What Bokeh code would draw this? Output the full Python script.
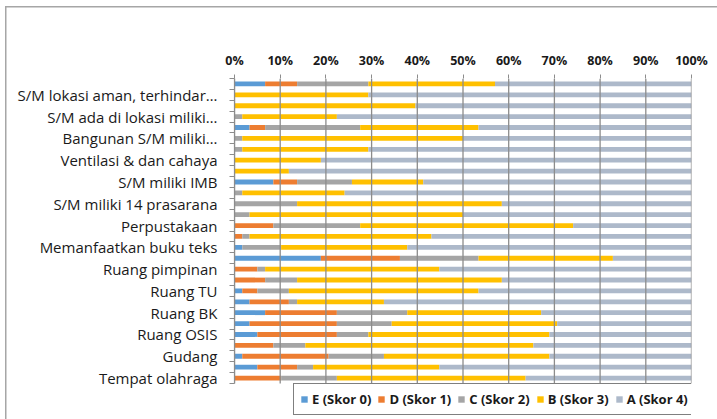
from bokeh.plotting import figure
from bokeh.models import ColumnDataSource, FixedTicker, Range1d, PrintfTickFormatter, Legend, LegendItem
from bokeh.embed import file_html
from bokeh.resources import INLINE

# 28 rows, top to bottom; only every other row carries a label (as in the source chart)
labels = ["S/M lokasi aman, terhindar…", "S/M ada di lokasi miliki…", "Bangunan S/M miliki…",
          "Ventilasi & dan cahaya", "S/M miliki IMB", "S/M miliki 14 prasarana", "Perpustakaan",
          "Memanfaatkan buku teks", "Ruang pimpinan", "Ruang TU", "Ruang BK", "Ruang OSIS",
          "Gudang", "Tempat olahraga"]

E = [6.7, 0, 0, 0, 3.3, 0, 0, 0, 0, 8.5, 0, 0, 0, 0, 0, 1.7, 18.9, 0, 0, 1.7, 3.3, 6.7, 3.3, 5.0, 0, 1.7, 5.0, 0]
D = [7.0, 0, 0, 0, 3.4, 0, 0, 0, 0, 5.2, 0, 0, 0, 8.5, 1.7, 0, 17.3, 5.0, 6.7, 3.3, 8.6, 15.7, 19.1, 17.4, 8.5, 18.9, 8.7, 10.2]
C = [15.6, 0, 0, 1.7, 20.8, 1.7, 1.7, 0, 0, 12.0, 1.7, 13.7, 3.3, 19.0, 1.6, 8.5, 17.2, 1.7, 7.0, 6.9, 1.8, 15.4, 12.0, 6.9, 7.0, 12.1, 3.5, 12.2]
B = [27.7, 29.3, 39.6, 20.7, 25.9, 48.3, 27.6, 18.9, 11.9, 15.6, 22.4, 44.8, 46.7, 46.6, 39.8, 27.6, 29.4, 38.1, 44.8, 41.5, 19.0, 29.3, 36.2, 39.6, 49.9, 36.2, 27.6, 41.3]
A = [43.0, 70.7, 60.4, 77.6, 46.6, 50.0, 70.7, 81.1, 88.1, 58.7, 75.9, 41.5, 50.0, 25.9, 56.9, 62.2, 17.2, 55.2, 41.5, 46.6, 67.3, 32.9, 29.4, 31.1, 34.6, 31.1, 55.2, 36.3]

series = ["E", "D", "C", "B", "A"]
series_names = ["E (Skor 0)", "D (Skor 1)", "C (Skor 2)", "B (Skor 3)", "A (Skor 4)"]
colors = ["#5B9BD5", "#ED7D31", "#A5A5A5", "#FFC000", "#ADB9CA"]
x_ticks = [0, 10, 20, 30, 40, 50, 60, 70, 80, 90, 100]

n = len(A)
ypos = [n - i for i in range(n)]
source = ColumnDataSource(dict(y=ypos, E=E, D=D, C=C, B=B, A=A))

# frame runs to the bottom of the canvas so the legend can sit inside it
top_px, cat_bottom_px, H = 78, 383, 419
unit = (cat_bottom_px - top_px) / n
y_start = 0.5 - (H - cat_bottom_px) / unit

p = figure(width=717, height=H, output_backend="svg", toolbar_location=None,
           x_range=Range1d(0, 100), y_range=Range1d(y_start, n + 0.5),
           x_axis_location="above",
           min_border_left=234, min_border_right=26, min_border_top=top_px, min_border_bottom=0)
p.outline_line_color = None
p.border_fill_alpha = 0
p.styles = {"background": "linear-gradient(#a6a6a6,#a6a6a6) 5px 6px / 1.5px 430px no-repeat, "
                          "linear-gradient(#a6a6a6,#a6a6a6) 5px 6px / 730px 1.5px no-repeat, white"}

renderers = p.hbar_stack(series, y="y", height=0.44, color=colors, source=source, line_color=None)

# vertical gridlines limited to the category band
p.segment(x0=x_ticks, y0=[0.5] * len(x_ticks), x1=x_ticks, y1=[n + 0.5] * len(x_ticks),
          line_color="#8c8c8c", line_width=1.3)
p.xgrid.grid_line_color = None
p.ygrid.grid_line_color = None

# x axis (top)
xa = p.xaxis[0]
xa.ticker = FixedTicker(ticks=x_ticks)
xa.formatter = PrintfTickFormatter(format="%d%%")
xa.axis_line_color = None
xa.major_tick_line_color = "#8c8c8c"
xa.major_tick_out = 4
xa.major_tick_in = 0
xa.minor_tick_line_color = None
xa.major_label_standoff = 6
xa.major_label_text_font = "Open Sans"
xa.major_label_text_font_style = "bold"
xa.major_label_text_font_size = "12.5px"
xa.major_label_text_color = "#1a1a1a"

# y axis
label_pos = [n - (2 * k + 1) for k in range(len(labels))]
ya = p.yaxis[0]
ya.ticker = FixedTicker(ticks=label_pos, minor_ticks=[i + 0.5 for i in range(n + 1)])
ya.major_label_overrides = {int(pos): lab for pos, lab in zip(label_pos, labels)}
ya.bounds = (0.5, n + 0.5)
ya.axis_line_color = "#8c8c8c"
ya.axis_line_width = 1.2
ya.major_tick_line_color = None
ya.major_tick_out = 0
ya.major_tick_in = 0
ya.minor_tick_line_color = "#8c8c8c"
ya.minor_tick_out = 5
ya.minor_tick_in = 0
ya.major_label_standoff = 12
ya.major_label_text_font = "Open Sans"
ya.major_label_text_font_size = "15px"
ya.major_label_text_color = "#1a1a1a"

legend = Legend(items=[LegendItem(label=nm, renderers=[r]) for nm, r in zip(series_names, renderers)],
                orientation="horizontal", location=(59, 4),
                border_line_color="black", border_line_width=1.5,
                label_text_font="Open Sans", label_text_font_style="bold",
                label_text_font_size="13px", label_text_color="#1a1a1a",
                glyph_width=8, glyph_height=8, label_standoff=4, spacing=6,
                padding=6, margin=0, label_height=13)
p.add_layout(legend, "center")

open("out.html", "w").write(file_html(p, INLINE))
